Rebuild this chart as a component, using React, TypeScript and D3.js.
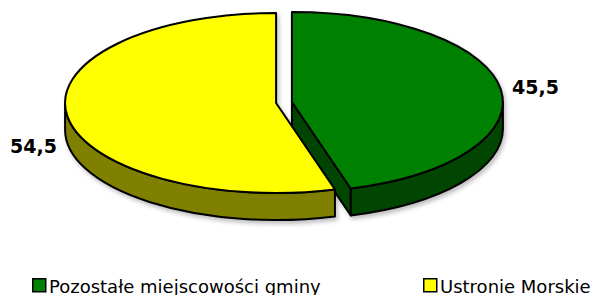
import React from 'react';
import * as d3 from 'd3';

// data
const categories = ['Pozostałe miejscowości gminy', 'Ustronie Morskie'];
const values = [45.5, 54.5];
const labels = ['45,5', '54,5'];
const topColors = ['#008000', '#ffff00'];
const sideColors = ['#004400', '#808000'];

const W = 600;
const H = 295;

export default function App() {
  // vars
  const cx = 284;
  const cy = 102.5;
  const rx = 211;
  const ry = 90;
  const depth = 27;
  const explode = 8;

  const arcs = d3.pie<number>().sort(null).startAngle(0).endAngle(2 * Math.PI)(values);

  const pt = (c: number[], a: number, dy = 0) => [c[0] + rx * Math.sin(a), c[1] - ry * Math.cos(a) + dy];

  const slices = arcs.map((d, i) => {
    const mid = (d.startAngle + d.endAngle) / 2;
    const c = [cx + explode * Math.sin(mid), cy - explode * (ry / rx) * Math.cos(mid)];
    const a0 = d.startAngle;
    const a1 = d.endAngle;
    const large = a1 - a0 > Math.PI ? 1 : 0;
    const p0 = pt(c, a0);
    const p1 = pt(c, a1);
    const top = `M${c[0]},${c[1]}L${p0[0]},${p0[1]}A${rx},${ry} 0 ${large} 1 ${p1[0]},${p1[1]}Z`;

    // outer rim, only the front half is visible
    const b0 = Math.max(a0, Math.PI / 2);
    const b1 = Math.min(a1, (3 * Math.PI) / 2);
    let side = '';
    if (b1 > b0) {
      const s0 = pt(c, b0);
      const s1 = pt(c, b1);
      side =
        `M${s0[0]},${s0[1]}A${rx},${ry} 0 0 1 ${s1[0]},${s1[1]}` +
        `L${s1[0]},${s1[1] + depth}A${rx},${ry} 0 0 0 ${s0[0]},${s0[1] + depth}Z`;
    }

    // radial face at the end angle (visible when it faces left/down)
    let face = '';
    if (a1 > Math.PI / 2 && a1 < Math.PI) {
      face = `M${c[0]},${c[1]}L${p1[0]},${p1[1]}L${p1[0]},${p1[1] + depth}L${c[0]},${c[1] + depth}Z`;
    }
    return { d, i, c, top, side, face };
  });

  const stroke = { stroke: '#000', strokeWidth: 2, strokeLinejoin: 'round' as const };

  return (
    <div style={{ position: 'absolute', left: 0, top: 0 }}>
      <svg width={W} height={H} style={{ display: 'block' }}>
        <defs>
          <filter id="shadow" x="-10%" y="-10%" width="130%" height="140%">
            <feDropShadow dx="2" dy="3" stdDeviation="2" floodColor="#000" floodOpacity="0.25" />
          </filter>
        </defs>
        <g filter="url(#shadow)">
          {slices.map(s => s.face && <path key={`f${s.i}`} d={s.face} fill={sideColors[s.i]} {...stroke} />)}
          {slices.map(s => s.side && <path key={`s${s.i}`} d={s.side} fill={sideColors[s.i]} {...stroke} />)}
          {slices.map(s => (
            <path key={`t${s.i}`} d={s.top} fill={topColors[s.i]} {...stroke} />
          ))}
        </g>
        <g fontFamily="DejaVu Sans, sans-serif" fontWeight="bold" fontSize={19} fill="#000">
          <text x={cx + rx + explode + 9} y={94}>{labels[0]}</text>
          <text x={cx - rx - explode - 55} y={153}>{labels[1]}</text>
        </g>
        <g fontFamily="DejaVu Sans, sans-serif" fontSize={18} fill="#000">
          {categories.map((c, i) => {
            const x = i === 0 ? 32 : 423;
            return (
              <g key={c} transform={`translate(${x},278)`}>
                <rect x={0.75} y={0.75} width={13} height={13} fill={topColors[i]} stroke="#000" strokeWidth={1.5} />
                <text x={17} y={15}>{c}</text>
              </g>
            );
          })}
        </g>
      </svg>
    </div>
  );
}
